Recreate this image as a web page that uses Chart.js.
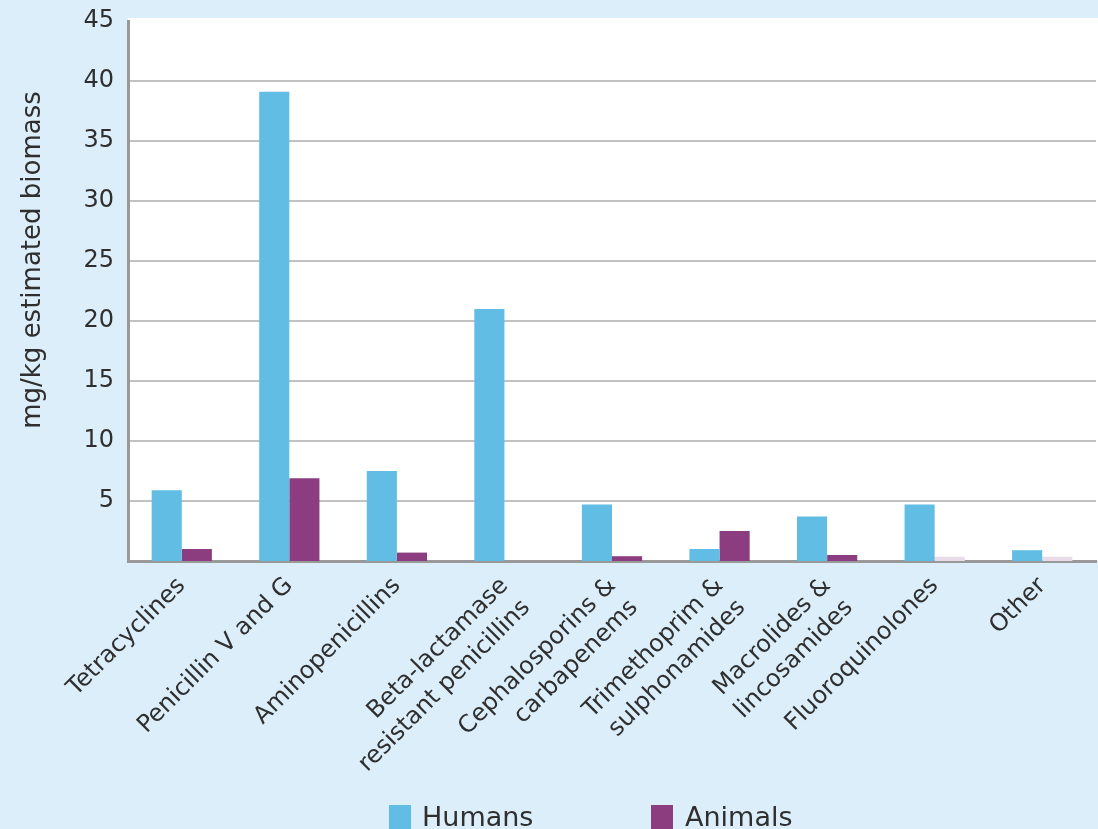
<!DOCTYPE html>
<html>
<head>
<meta charset="utf-8">
<script src="https://cdn.jsdelivr.net/npm/chart.js@4.4.1/dist/chart.umd.min.js"></script>
<style>
  html, body { margin: 0; padding: 0; background: #dbeefa; }
  #wrap { width: 1098px; height: 829px; position: relative; }
</style>
</head>
<body>
<div id="wrap"><canvas id="c" width="1098" height="829"></canvas></div>
<script>
const categories = [
  "Tetracyclines",
  "Penicillin V and G",
  "Aminopenicillins",
  ["Beta-lactamase", "resistant penicillins"],
  ["Cephalosporins &", "carbapenems"],
  ["Trimethoprim &", "sulphonamides"],
  ["Macrolides &", "lincosamides"],
  "Fluoroquinolones",
  "Other"
];
const humans = [5.9, 39.1, 7.5, 21.0, 4.7, 1.0, 3.7, 4.7, 0.9];
const animals = [1.0, 6.9, 0.7, 0, 0.4, 2.5, 0.5, 0.35, 0.35];
const yTicks = [5, 10, 15, 20, 25, 30, 35, 40, 45];
const yTitle = "mg/kg estimated biomass";
const seriesNames = ["Humans", "Animals"];
const seriesColors = ["#62bde4", "#8b3d80"];
const animalColors = ["#8b3d80", "#8b3d80", "#8b3d80", "#8b3d80", "#8b3d80", "#8b3d80", "#8b3d80", "#e9dbe7", "#e9dbe7"];

const FONT = "'DejaVu Sans', 'Liberation Sans', sans-serif";
const TEXT = '#2f2f2f';

const plotBg = {
  id: 'plotBg',
  beforeDraw(chart) {
    const { ctx, chartArea: a } = chart;
    ctx.save();
    ctx.fillStyle = '#ffffff';
    ctx.fillRect(a.left, a.top - 3, chart.width - a.left, a.bottom - a.top + 3);
    ctx.restore();
  },
  afterDraw(chart) {
    const { ctx } = chart;
    ctx.save();
    ctx.fillStyle = TEXT;
    ctx.font = "26px " + FONT;
    ctx.textAlign = 'center';
    ctx.textBaseline = 'middle';
    ctx.translate(33, 260);
    ctx.rotate(-Math.PI / 2);
    ctx.fillText(yTitle, 0, 0);
    ctx.restore();
    ctx.save();
    const boxX = [389, 651];
    const textX = [422, 685];
    ctx.font = "27px " + FONT;
    ctx.textBaseline = 'alphabetic';
    ctx.textAlign = 'left';
    for (let i = 0; i < seriesNames.length; i++) {
      ctx.fillStyle = seriesColors[i];
      ctx.fillRect(boxX[i], 805, 22, 30);
      ctx.fillStyle = TEXT;
      ctx.fillText(seriesNames[i], textX[i], 826);
    }
    ctx.restore();
  }
};

new Chart(document.getElementById('c'), {
  type: 'bar',
  data: {
    labels: categories,
    datasets: [
      { label: seriesNames[0], data: humans, backgroundColor: seriesColors[0], borderWidth: 0 },
      { label: seriesNames[1], data: animals, backgroundColor: animalColors, borderWidth: 0 }
    ]
  },
  plugins: [plotBg],
  options: {
    responsive: false,
    animation: false,
    devicePixelRatio: 1,
    layout: { padding: { top: 21, right: 2, left: 0, bottom: 0 } },
    datasets: { bar: { categoryPercentage: 0.56, barPercentage: 1.0 } },
    plugins: {
      legend: { display: false },
      tooltip: { enabled: false }
    },
    scales: {
      x: {
        grid: { display: false },
        border: { color: '#999999', width: 3 },
        ticks: {
          maxRotation: 45, minRotation: 45,
          color: TEXT,
          padding: 2,
          font: { family: FONT, size: 24, lineHeight: 1.3 }
        },
        afterFit: (s) => { s.height = 268; s.paddingLeft = 0; s.paddingRight = 0; }
      },
      y: {
        min: 0, max: 45,
        afterBuildTicks: (s) => { s.ticks = yTicks.map(v => ({ value: v })); },
        grid: {
          color: (c) => (c.tick && c.tick.value === 45) ? 'rgba(0,0,0,0)' : '#c2c2c2',
          lineWidth: 2, drawTicks: false
        },
        border: { color: '#999999', width: 3 },
        ticks: {
          color: TEXT,
          padding: 14,
          font: { family: FONT, size: 24 }
        },
        afterFit: (s) => { s.width = 128; s.paddingTop = 0; s.paddingBottom = 0; }
      }
    }
  }
});
</script>
</body>
</html>
